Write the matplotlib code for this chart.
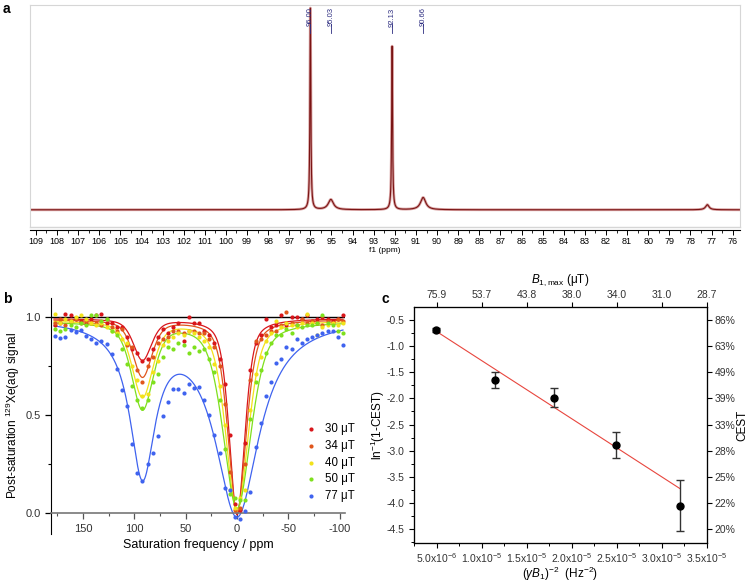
import numpy as np
import matplotlib
matplotlib.use("Agg")
import matplotlib.pyplot as plt
from matplotlib import font_manager
from matplotlib.ticker import MultipleLocator, FixedLocator, NullLocator
import matplotlib.transforms as mtransforms

plt.rcParams['font.family'] = ['Liberation Sans', 'DejaVu Sans']
plt.rcParams['mathtext.fontset'] = 'custom'
plt.rcParams['mathtext.rm'] = 'Liberation Sans'
plt.rcParams['mathtext.it'] = 'Liberation Sans:italic'
plt.rcParams['mathtext.bf'] = 'Liberation Sans:bold'
plt.rcParams['axes.unicode_minus'] = False

installed = {f.name for f in font_manager.fontManager.ttflist}
narrow = 'Liberation Sans Narrow' if 'Liberation Sans Narrow' in installed else 'Liberation Sans'
narrow_size = 7 if narrow == 'Liberation Sans Narrow' else 6.5

# ---- panel a: 129Xe spectrum (peak list) ----
peak_ppm = [96.00, 95.03, 92.13, 90.66, 77.20]
peak_height = [0.99, 0.05, 0.80, 0.06, 0.025]
peak_fwhm = [0.05, 0.30, 0.05, 0.30, 0.20]
label_ppm = [96.00, 95.03, 92.13, 90.66]
label_text = ["96.00", "95.03", "92.13", "90.66"]

# ---- panel b: z-spectra ----
freq = [177, 172, 167, 162, 157, 152, 147, 142, 137, 132, 127, 122, 117, 112, 107,
        102, 97, 92, 87, 82, 77, 72, 67, 62, 57, 52, 47, 42, 37, 32, 27, 22, 17, 12,
        7, 2, -3, -8, -13, -18, -23, -28, -33, -38, -43, -48, -53, -58, -63, -68,
        -73, -78, -83, -88, -93, -98, -103]
sig_30 = [0.96, 0.97, 1.02, 1.01, 0.99, 0.98, 0.97, 0.99, 1.01, 1.02, 0.97, 0.97, 0.95,
          0.95, 0.90, 0.84, 0.82, 0.78, 0.79, 0.84, 0.90, 0.94, 0.92, 0.95, 0.97, 0.88,
          1.00, 0.97, 0.97, 0.93, 0.91, 0.87, 0.79, 0.66, 0.40, 0.05, 0.02, 0.36, 0.73,
          0.87, 0.91, 0.99, 0.95, 0.96, 1.01, 0.96, 1.00, 1.00, 0.99, 1.01, 0.98, 0.99,
          1.00, 0.99, 0.98, 0.99, 1.01]
sig_34 = [0.97, 0.99, 0.96, 0.98, 0.99, 0.97, 0.98, 0.97, 0.97, 0.96, 0.99, 0.95, 0.93,
          0.94, 0.86, 0.85, 0.73, 0.67, 0.75, 0.80, 0.87, 0.89, 0.90, 0.93, 0.93, 0.92,
          0.93, 0.93, 0.92, 0.92, 0.89, 0.85, 0.75, 0.56, 0.21, 0.02, 0.03, 0.25, 0.68,
          0.88, 0.89, 0.91, 0.93, 0.93, 0.96, 1.03, 0.97, 0.96, 0.99, 0.97, 0.98, 0.97,
          0.96, 0.98, 0.97, 0.99, 0.98]
sig_40 = [1.02, 0.97, 0.99, 0.98, 1.00, 1.01, 0.99, 0.97, 0.96, 0.97, 0.95, 0.93, 0.92,
          0.89, 0.87, 0.75, 0.68, 0.60, 0.61, 0.72, 0.78, 0.86, 0.88, 0.90, 0.92, 0.91,
          0.93, 0.92, 0.90, 0.88, 0.85, 0.76, 0.65, 0.45, 0.12, 0.03, 0.08, 0.12, 0.53,
          0.71, 0.80, 0.88, 0.92, 0.98, 0.95, 0.97, 0.96, 0.95, 0.97, 1.02, 0.97, 0.91,
          0.95, 0.96, 0.97, 0.96, 0.97]
sig_50 = [0.94, 0.93, 0.94, 0.96, 0.95, 0.97, 0.96, 1.01, 1.01, 0.98, 0.99, 0.93, 0.91,
          0.84, 0.76, 0.65, 0.58, 0.54, 0.58, 0.67, 0.71, 0.80, 0.85, 0.84, 0.87, 0.86,
          0.82, 0.85, 0.83, 0.84, 0.79, 0.72, 0.58, 0.33, 0.10, 0.08, 0.07, 0.07, 0.48,
          0.67, 0.73, 0.82, 0.87, 0.91, 0.91, 0.94, 0.92, 0.96, 0.95, 0.96, 0.96, 0.97,
          1.01, 0.97, 0.96, 0.93, 0.92]
sig_77 = [0.905, 0.896, 0.90, 0.937, 0.925, 0.934, 0.905, 0.888, 0.872, 0.881, 0.866,
          0.816, 0.736, 0.631, 0.546, 0.355, 0.206, 0.165, 0.25, 0.306, 0.393, 0.498,
          0.57, 0.633, 0.634, 0.614, 0.658, 0.638, 0.646, 0.58, 0.50, 0.40, 0.31, 0.13,
          0.12, -0.02, -0.03, 0.01, 0.11, 0.34, 0.46, 0.60, 0.67, 0.77, 0.79, 0.85, 0.84,
          0.89, 0.87, 0.89, 0.90, 0.91, 0.92, 0.93, 0.93, 0.90, 0.86]
series_labels = ["30 \u03bcT", "34 \u03bcT", "40 \u03bcT", "50 \u03bcT", "77 \u03bcT"]
series_colors = ["#d8161b", "#e0561c", "#f2e21b", "#7ee01d", "#3f63ef"]

# fit parameters (two-pool lineshape)
fit_base = [0.995, 0.99, 0.985, 0.98, 1.0]
fit_a0 = [1.0, 0.98, 0.97, 0.95, 1.0]
fit_hw0 = [9.0, 10.5, 13.0, 16.0, 26.0]
fit_a1 = [0.21, 0.29, 0.385, 0.44, 0.76]
fit_hw1 = [10.5, 11.0, 12.0, 12.5, 15.0]
fit_eta = [0.5, 0.5, 0.5, 0.5, 1.0]
cage_ppm = 92.0

# ---- panel c: CEST vs B1 ----
inv_b1_sq = [4.86e-6, 1.152e-5, 1.80e-5, 2.49e-5, 3.20e-5]
ln_cest = [-0.69, -1.647, -1.984, -2.888, -4.054]
ln_err = [0.04, 0.15, 0.185, 0.25, 0.49]
fit_slope = -1.11e5
fit_icpt = -0.17
bottom_ticks = [5e-6, 1e-5, 1.5e-5, 2e-5, 2.5e-5, 3e-5, 3.5e-5]
bottom_labels = ["5.0x10$^{-6}$", "1.0x10$^{-5}$", "1.5x10$^{-5}$", "2.0x10$^{-5}$",
                 "2.5x10$^{-5}$", "3.0x10$^{-5}$", "3.5x10$^{-5}$"]
b1_labels = ["75.9", "53.7", "43.8", "38.0", "34.0", "31.0", "28.7"]
left_ticks = [-0.5, -1.0, -1.5, -2.0, -2.5, -3.0, -3.5, -4.0, -4.5]
cest_labels = ["86%", "63%", "49%", "39%", "33%", "28%", "25%", "22%", "20%"]


def pv(x, x0, hw, eta):
    lor = hw ** 2 / ((x - x0) ** 2 + hw ** 2)
    gau = np.exp(-np.log(2) * (x - x0) ** 2 / hw ** 2)
    return eta * lor + (1 - eta) * gau


fig = plt.figure(figsize=(7.5, 5.84), dpi=100)

# ================= a =================
axa = fig.add_axes([0.04, 0.611, 0.947, 0.380])
xs = np.linspace(109.28, 75.64, 9000)
spec = np.zeros_like(xs)
for p, h, w in zip(peak_ppm, peak_height, peak_fwhm):
    spec += h * (w / 2) ** 2 / ((xs - p) ** 2 + (w / 2) ** 2)
axa.plot(xs, spec, color="#d9a3a3", lw=2.0)
axa.plot(xs, spec, color="#7a1414", lw=0.8)
axa.set_xlim(109.28, 75.64)
axa.set_ylim(-0.085, 1.0)
for s in ["left", "right", "top"]:
    axa.spines[s].set_color("#d6d6d6")
axa.spines["bottom"].set_position(("outward", 2))
axa.plot([0, 1], [0, 0], transform=axa.transAxes, color="#d6d6d6", lw=1, clip_on=False)
axa.set_yticks([])
axa.xaxis.set_major_locator(MultipleLocator(1))
axa.xaxis.set_minor_locator(MultipleLocator(0.5))
axa.tick_params(axis="x", which="major", length=3.5, width=0.7, pad=1.5,
                labelsize=narrow_size, labelfontfamily=narrow)
axa.tick_params(axis="x", which="minor", length=1.8, width=0.6)
axa.set_xlabel("f1 (ppm)", fontsize=6, labelpad=1)
trans = mtransforms.blended_transform_factory(axa.transData, axa.transAxes)
for p, t in zip(label_ppm, label_text):
    axa.text(p, 0.99, t, rotation=90, ha="center", va="top", fontsize=5.5,
             color="#2c2c80", transform=trans, family=narrow)
    axa.plot([p, p], [0.874, 0.915], color="#2c2c80", lw=0.6, transform=trans)

# ================= b =================
axb = fig.add_axes([0.068, 0.0856, 0.392, 0.4044])
all_sig = [sig_30, sig_34, sig_40, sig_50, sig_77]
xf = np.linspace(178, -103, 1200)
for i in range(5):
    curve = (fit_base[i] - fit_a0[i] * pv(xf, 0.0, fit_hw0[i], fit_eta[i])
             - fit_a1[i] * pv(xf, cage_ppm, fit_hw1[i], fit_eta[i]))
    axb.plot(xf, curve, color=series_colors[i], lw=0.9, zorder=2)
for i in range(5):
    axb.scatter(freq, all_sig[i], s=9, color=series_colors[i], linewidths=0,
                label=series_labels[i], zorder=3)
axb.axhline(1.0, color="black", lw=1.0, zorder=1)
axb.set_xlim(181, -105)
axb.set_ylim(-0.105, 1.1)
axb.spines["top"].set_visible(False)
axb.spines["right"].set_visible(False)
axb.spines["bottom"].set_position(("data", 0))
axb.spines["bottom"].set_color("#777777")
axb.spines["bottom"].set_linewidth(1.2)
axb.xaxis.set_major_locator(FixedLocator([150, 100, 50, 0, -50, -100]))
axb.xaxis.set_minor_locator(FixedLocator([175, 125, 75, 25, -25, -75]))
axb.yaxis.set_major_locator(FixedLocator([0.0, 0.5, 1.0]))
axb.yaxis.set_minor_locator(FixedLocator([0.25, 0.75]))
axb.set_xticklabels(["150", "100", "50", "0", "-50", "-100"])
axb.set_yticklabels(["0.0", "0.5", "1.0"])
axb.tick_params(which="major", length=4, width=0.9, labelsize=8, labelcolor="#333333")
axb.tick_params(which="minor", length=2, width=0.8)
axb.tick_params(axis="x", which="both", color="#555555")
axb.set_xlabel("Saturation frequency / ppm", fontsize=9, labelpad=4)
axb.set_ylabel("Post-saturation $^{129}$Xe(aq) signal", fontsize=8.5, labelpad=2)
axb.legend(loc="lower right", bbox_to_anchor=(1.05, 0.115), frameon=False, fontsize=8.3,
           handletextpad=0.6, labelspacing=0.42, handlelength=1.2, scatterpoints=1,
           borderaxespad=0)

# ================= c =================
axc = fig.add_axes([0.5524, 0.0697, 0.3899, 0.4041])
xl = np.array([inv_b1_sq[0], inv_b1_sq[-1]])
axc.plot(xl, fit_slope * xl + fit_icpt, color="#e8463e", lw=0.8, zorder=2)
axc.errorbar(inv_b1_sq, ln_cest, yerr=ln_err, fmt="o", color="black", ms=5,
             ecolor="#333333", elinewidth=1.0, capsize=3, capthick=1.0, zorder=3)
axc.set_xlim(2.5e-6, 3.5e-5)
axc.set_ylim(-4.77, -0.26)
axc.xaxis.set_major_locator(FixedLocator(bottom_ticks))
axc.xaxis.set_minor_locator(MultipleLocator(2.5e-6))
axc.set_xticklabels(bottom_labels)
axc.yaxis.set_major_locator(FixedLocator(left_ticks))
axc.yaxis.set_minor_locator(MultipleLocator(0.25))
axc.set_yticklabels([f"{v:.1f}" for v in left_ticks])
axc.tick_params(which="major", length=3.5, width=0.8, labelsize=7.5, labelcolor="#333333")
axc.tick_params(which="minor", length=2, width=0.7)
axc.tick_params(axis="x", which="major", pad=2)
axc.set_xlabel(r"($\gamma B_1$)$^{-2}$  (Hz$^{-2}$)", fontsize=8.5, labelpad=0)
axc.set_ylabel("ln$^{-1}$(1-CEST)", fontsize=8.5, labelpad=0)

axt = axc.twiny()
axt.set_xlim(axc.get_xlim())
axt.xaxis.set_major_locator(FixedLocator(bottom_ticks))
axt.xaxis.set_minor_locator(NullLocator())
axt.set_xticklabels(b1_labels)
axt.tick_params(length=3.5, width=0.8, labelsize=7.5, labelcolor="#333333", pad=2)
axt.set_xlabel("$B_{1,\\mathrm{max}}$ (\u03bcT)", fontsize=8.5, labelpad=5)

axr = axc.twinx()
axr.set_ylim(axc.get_ylim())
axr.yaxis.set_major_locator(FixedLocator(left_ticks))
axr.yaxis.set_minor_locator(NullLocator())
axr.set_yticklabels(cest_labels)
axr.tick_params(length=3.5, width=0.8, labelsize=7.5, labelcolor="#333333", pad=2)
axr.set_ylabel("CEST", fontsize=8.5, labelpad=1)

fig.text(0.004, 0.978, "a", fontsize=10, fontweight="bold")
fig.text(0.004, 0.482, "b", fontsize=10, fontweight="bold")
fig.text(0.509, 0.482, "c", fontsize=10, fontweight="bold")

fig.savefig("out.png", dpi=100)
